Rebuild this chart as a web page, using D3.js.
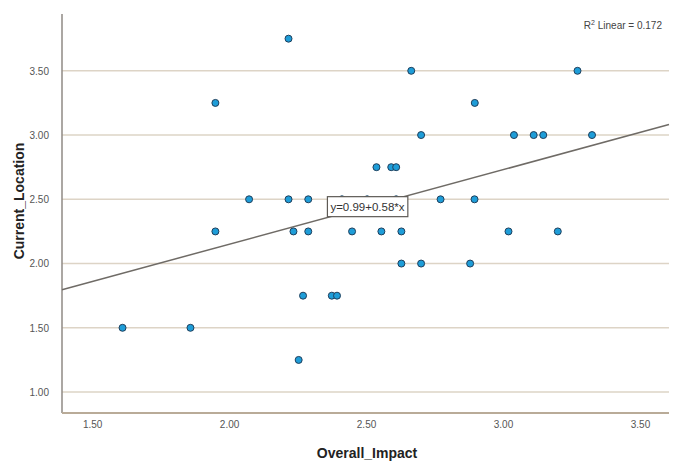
<!DOCTYPE html>
<html>
<head>
<meta charset="utf-8">
<script src="https://cdn.jsdelivr.net/npm/d3@7"></script>
<style>
  html, body { margin: 0; padding: 0; background: #ffffff; }
  svg { display: block; }
</style>
</head>
<body>
<svg id="chart" width="676" height="463"></svg>
<script>
// ---- data ----
const overallImpact = [
  2.217, 1.950, 2.073, 2.217, 2.289, 1.950, 2.235, 2.289,
  2.665, 3.272, 2.897, 2.701, 3.040, 3.112, 3.147, 3.325,
  2.538, 2.592, 2.610, 2.772, 2.896, 2.449, 2.556, 2.629,
  3.020, 3.200, 1.611, 1.859, 2.270, 2.375, 2.394, 2.254,
  2.629, 2.701, 2.880, 2.412, 2.504, 2.610
];
const currentLocation = [
  3.75, 3.25, 2.50, 2.50, 2.50, 2.25, 2.25, 2.25,
  3.50, 3.50, 3.25, 3.00, 3.00, 3.00, 3.00, 3.00,
  2.75, 2.75, 2.75, 2.50, 2.50, 2.25, 2.25, 2.25,
  2.25, 2.25, 1.50, 1.50, 1.75, 1.75, 1.75, 1.25,
  2.00, 2.00, 2.00, 2.50, 2.50, 2.50
];
const xTicks = [1.5, 2.0, 2.5, 3.0, 3.5];
const yTicks = [1.0, 1.5, 2.0, 2.5, 3.0, 3.5];
const fitIntercept = 0.99;
const fitSlope = 0.58;
const fitLabel = "y=0.99+0.58*x";
const rSquared = "0.172";
const xTitle = "Overall_Impact";
const yTitle = "Current_Location";

// ---- layout ----
const svg = d3.select("#chart");
const padL = 62, padR = 669, padT = 14, padB = 413;
const x = d3.scaleLinear().domain([1.39, 3.606]).range([padL, padR]);
const y = d3.scaleLinear().domain([0.837, 3.942]).range([padB, padT]);

const tickFont = "'Liberation Sans Narrow', 'Arial Narrow', 'Liberation Sans', Arial, sans-serif";

// gridlines
svg.append("g").selectAll("line").data(yTicks).join("line")
  .attr("x1", padL).attr("x2", padR)
  .attr("y1", d => y(d)).attr("y2", d => y(d))
  .attr("stroke", "#ddd4c6").attr("stroke-width", 1.6);

// y axis
const yAxis = svg.append("g").attr("transform", `translate(${padL},0)`)
  .call(d3.axisLeft(y).tickValues(yTicks).tickFormat(d3.format(".2f")).tickSize(0).tickPadding(13));
yAxis.select(".domain").remove();
yAxis.selectAll("text").attr("font-family", tickFont).attr("font-size", 10).attr("fill", "#555");
svg.append("line").attr("x1", padL).attr("x2", padL).attr("y1", padT).attr("y2", padB)
  .attr("stroke", "#8f8a84").attr("stroke-width", 1.5);

// x axis
const xAxis = svg.append("g").attr("transform", `translate(0,${padB})`)
  .call(d3.axisBottom(x).tickValues(xTicks).tickFormat(d3.format(".2f")).tickSize(0).tickPadding(8));
xAxis.select(".domain").remove();
xAxis.selectAll("text").attr("font-family", tickFont).attr("font-size", 10).attr("fill", "#555");
svg.append("line").attr("x1", padL).attr("x2", padR).attr("y1", padB).attr("y2", padB)
  .attr("stroke", "#b9ab98").attr("stroke-width", 2);

// regression line
const xd = x.domain();
svg.append("line")
  .attr("x1", x(xd[0])).attr("y1", y(fitIntercept + fitSlope * xd[0]))
  .attr("x2", x(xd[1])).attr("y2", y(fitIntercept + fitSlope * xd[1]))
  .attr("stroke", "#6f6b66").attr("stroke-width", 1.5);

// points
svg.append("g").selectAll("circle").data(overallImpact.map((v, i) => [v, currentLocation[i]])).join("circle")
  .attr("cx", d => x(d[0])).attr("cy", d => y(d[1])).attr("r", 3.5)
  .attr("fill", "#1e9dd8").attr("stroke", "#1f3f5c").attr("stroke-width", 1);

// equation label box
const midX = (xd[0] + xd[1]) / 2;
const lx = x(midX), ly = y(fitIntercept + fitSlope * midX);
const eq = svg.append("g");
const eqText = eq.append("text").attr("x", lx + 2).attr("y", ly + 4)
  .attr("text-anchor", "middle").attr("font-family", tickFont).attr("font-size", 11.5)
  .attr("fill", "#333").text(fitLabel);
const bb = eqText.node().getBBox();
eq.insert("rect", "text")
  .attr("x", bb.x - 3).attr("y", ly - 10.5).attr("width", bb.width + 6).attr("height", 20)
  .attr("fill", "#ffffff").attr("stroke", "#5e5a55").attr("stroke-width", 1.2);

// R² label
const r2 = svg.append("text").attr("x", 662).attr("y", 29).attr("text-anchor", "end")
  .attr("font-family", tickFont).attr("font-size", 10).attr("fill", "#444");
r2.append("tspan").text("R");
r2.append("tspan").attr("dy", -4).attr("font-size", 7).text("2");
r2.append("tspan").attr("dy", 4).text(" Linear = " + rSquared);

// axis titles
svg.append("text").attr("x", 367).attr("y", 458).attr("text-anchor", "middle")
  .attr("font-family", "'Liberation Sans', Arial, sans-serif").attr("font-weight", "bold")
  .attr("font-size", 14).attr("fill", "#222").text(xTitle);
svg.append("text").attr("transform", "translate(24,201) rotate(-90)").attr("text-anchor", "middle")
  .attr("font-family", "'Liberation Sans', Arial, sans-serif").attr("font-weight", "bold")
  .attr("font-size", 14).attr("fill", "#222").text(yTitle);
</script>
</body>
</html>
